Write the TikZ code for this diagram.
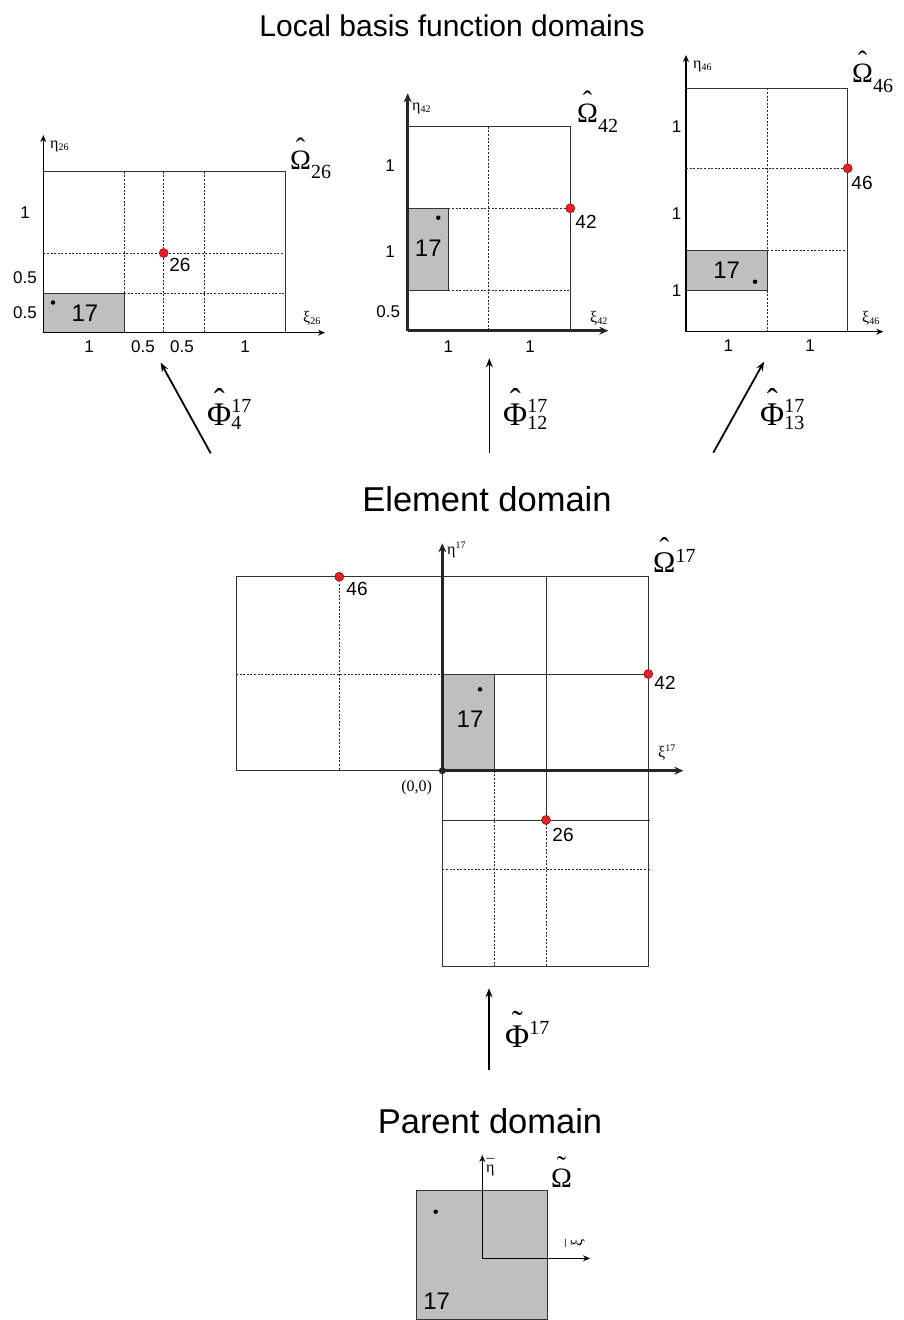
\documentclass[tikz,border=0pt]{standalone}
\usepackage{fontspec}
\setmainfont{Liberation Sans}
\newfontfamily\tms{Liberation Serif}
\usetikzlibrary{arrows.meta}
\newcommand\fs[1]{\fontsize{#1}{#1}\selectfont}
\newcommand\accented[3]{\leavevmode\vbox{\offinterlineskip\halign{\hfil##\hfil\cr #1\cr\noalign{\kern#2}#3\cr}}}
\newcommand\supsubx[4]{\makebox[0pt][l]{\raisebox{#3}{#1}}\raisebox{#4}{#2}}
\definecolor{ptred}{RGB}{228,32,36}
\definecolor{ptredd}{RGB}{140,20,20}
\begin{document}
\begin{tikzpicture}[x=1pt,y=-1pt,
  frame/.style={draw=black!80, line width=0.9pt},
  grid/.style={draw=black!85, line width=0.9pt, dash pattern=on 2pt off 1.6pt},
  thinaxis/.style={draw=black, line width=1.2pt, -{Stealth[length=7pt,width=6pt]}},
  thickaxis/.style={draw=black!85, line width=2.6pt, -{Stealth[length=9pt,width=8pt]}},
  maparrow/.style={draw=black, line width=1.8pt, -{Stealth[length=9pt,width=7pt]}},
  maparrowthin/.style={draw=black, line width=1.2pt, -{Stealth[length=9pt,width=7pt]}},
  cell/.style={fill=black!25, draw=black!80, line width=0.9pt},
  redpt/.style={circle, inner sep=0pt, minimum size=9pt, fill=ptred, draw=ptredd, line width=0.6pt},
  blkpt/.style={circle, inner sep=0pt, minimum size=4.5pt, fill=black},
  num/.style={font=\fs{17}, inner sep=0pt},
  lbl/.style={font=\fs{19}, inner sep=0pt},
  big/.style={font=\fs{24}, inner sep=0pt},
  ttl/.style={font=\fs{30}, inner sep=0pt, anchor=base},
  axl/.style={font=\tms\fs{16}, inner sep=0pt, anchor=base west},
  dom/.style={font=\tms\fs{28}, inner sep=0pt, anchor=base west},
  phi/.style={font=\tms\fs{33}, inner sep=0pt, anchor=base west}]
\useasboundingbox (0,0) rectangle (904,1320);

% titles
\node[ttl] (t1) at (452,36.7) {Local basis function domains};
\node[ttl, font=\fs{34.5}] (t2) at (487,511.7) {Element domain};
\node[ttl, font=\fs{34.5}] (t3) at (490,1133) {Parent domain};

% ---------- top-left panel (26)
\draw[grid] (124,171.7) -- (124,293.7);
\draw[grid] (163.7,171.7) -- (163.7,332.7);
\draw[grid] (204.3,171.7) -- (204.3,332.7);
\draw[grid] (43.3,253) -- (285,253);
\draw[grid] (124,293.7) -- (285,293.7);
\draw[frame] (43.3,171.7) rectangle (285,332.7);
\draw[cell] (43.3,293.7) rectangle (124,332.7);
\draw[thinaxis] (43.3,332.7) -- (43.3,135);
\draw[thinaxis] (43.3,332.7) -- (325,332.7);
\node[redpt] (p26) at (163.7,253) {};
\node[lbl] (l26) at (180,265) {26};
\node[blkpt] (d26) at (53,302.5) {};
\node[big] (c26) at (85,313) {17};
\node[num] (a1) at (25,213) {1};
\node[num] (a2) at (25,278) {0.5};
\node[num] (a3) at (25,313) {0.5};
\node[num] (a4) at (89,347) {1};
\node[num] (a5) at (143,347) {0.5};
\node[num] (a6) at (182,347) {0.5};
\node[num] (a7) at (245,347) {1};
\node[axl] (e26) at (50,148) {η\raisebox{-2pt}{\fs{10}26}};
\node[axl] (x26) at (303,322) {ξ\raisebox{-2pt}{\fs{10}26}};
\node[dom] (o26) at (290,169) {\accented{ˆ}{-.25em}{Ω}\raisebox{-9pt}{\fs{20}26}};

% ---------- top-middle panel (42)
\draw[grid] (488.7,126.7) -- (488.7,330.7);
\draw[grid] (448.3,208.3) -- (570.3,208.3);
\draw[grid] (448.3,290.7) -- (570.3,290.7);
\draw[frame] (407.7,126.7) rectangle (570.3,330.7);
\draw[cell] (407.7,208.3) rectangle (448.3,290.7);
\draw[thickaxis] (407.7,330.7) -- (407.7,93.3);
\draw[thickaxis] (407.7,330.7) -- (608.3,330.7);
\node[redpt] (p42) at (570.3,208.3) {};
\node[lbl] (l42) at (586,222) {42};
\node[blkpt] (d42) at (438.3,217.7) {};
\node[big] (c42) at (428.3,248.3) {17};
\node[num] (b1) at (390,166) {1};
\node[num] (b2) at (390,251.7) {1};
\node[num] (b3) at (388.3,311.7) {0.5};
\node[num] (b4) at (448.3,346.7) {1};
\node[num] (b5) at (530,346.7) {1};
\node[axl] (e42) at (412,110) {η\raisebox{-2pt}{\fs{10}42}};
\node[axl] (x42) at (590,322) {ξ\raisebox{-2pt}{\fs{10}42}};
\node[dom] (o42) at (577,122) {\accented{ˆ}{-.25em}{Ω}\raisebox{-10pt}{\fs{20}42}};

% ---------- top-right panel (46)
\draw[grid] (767.3,88.3) -- (767.3,250.7);
\draw[grid] (767.3,290.7) -- (767.3,331.7);
\draw[grid] (686,168.3) -- (847.7,168.3);
\draw[grid] (767.3,250.7) -- (847.7,250.7);
\draw[frame] (686,88.3) rectangle (847.7,331.7);
\draw[cell] (686,250.7) rectangle (767.3,290.7);
\draw[thinaxis] (686,331.7) -- (686,55);
\draw[thinaxis] (686,331.7) -- (883.3,331.7);
\node[redpt] (p46) at (847.7,168.3) {};
\node[lbl] (l46) at (862,183) {46};
\node[blkpt] (d46) at (755,281.7) {};
\node[big] (c46) at (726.7,270) {17};
\node[num] (r1) at (676.7,126.7) {1};
\node[num] (r2) at (676.7,213.3) {1};
\node[num] (r3) at (676.7,290.7) {1};
\node[num] (r4) at (728.3,346) {1};
\node[num] (r5) at (810,346) {1};
\node[axl] (e46) at (693,68) {η\raisebox{-2pt}{\fs{10}46}};
\node[axl] (x46) at (862,322) {ξ\raisebox{-2pt}{\fs{10}46}};
\node[dom] (o46) at (852,82) {\accented{ˆ}{-.25em}{Ω}\raisebox{-10pt}{\fs{20}46}};

% ---------- maps to local domains
\coordinate (m4s) at (210.7,453.3);  \coordinate (m4e) at (160.7,362.7);
\coordinate (m12s) at (489.3,453.3); \coordinate (m12e) at (489.3,358.3);
\coordinate (m13s) at (713.3,452.7); \coordinate (m13e) at (764,361.7);
\draw[maparrow] (m4s) -- (m4e);
\draw[maparrowthin] (m12s) -- (m12e);
\draw[maparrow] (m13s) -- (m13e);
\node[phi] (f4) at (207,425) {\accented{ˆ}{-.26em}{Φ}{\fs{20}\supsubx{17}{4}{13pt}{-4pt}}};
\node[phi] (f12) at (503,425) {\accented{ˆ}{-.26em}{Φ}{\fs{20}\supsubx{17}{12}{13pt}{-4pt}}};
\node[phi] (f13) at (760,425) {\accented{ˆ}{-.26em}{Φ}{\fs{20}\supsubx{17}{13}{13pt}{-4pt}}};

% ---------- element domain
\draw[grid] (236,674) -- (442.3,674);
\draw[grid] (339.3,576.7) -- (339.3,770.7);
\draw[grid] (494.3,770.7) -- (494.3,966.7);
\draw[grid] (546,820) -- (546,966.7);
\draw[grid] (442.3,869) -- (650,869);
\draw[frame] (236,576.7) rectangle (648.3,770.7);
\draw[frame] (442.3,770.7) rectangle (648.3,966.7);
\draw[frame] (546,576.7) -- (546,820);
\draw[frame] (442.3,674) -- (648.3,674);
\draw[frame] (442.3,820) -- (650,820);
\draw[cell] (442.3,674) rectangle (494.3,770.7);
\draw[thickaxis] (442.3,770.7) -- (442.3,543.3);
\draw[thickaxis] (442.3,770.7) -- (683.3,770.7);
\node[circle, inner sep=0pt, minimum size=7pt, fill=black!85] (org) at (442.3,770.7) {};
\node[font=\tms\fs{16}, inner sep=0pt] (orgl) at (416.7,787.3) {(0,0)};
\node[redpt] (q46) at (339.3,576.7) {};
\node[lbl] (ql46) at (357,589.3) {46};
\node[redpt] (q42) at (648.3,674) {};
\node[lbl] (ql42) at (665,683.3) {42};
\node[redpt] (q26) at (546,820) {};
\node[lbl] (ql26) at (563,835) {26};
\node[blkpt] (qd) at (480,689.3) {};
\node[big] (qc) at (470,719.3) {17};
\node[axl] (e17) at (447,554) {η\raisebox{6pt}{\fs{10}17}};
\node[axl] (x17) at (658,757) {ξ\raisebox{6pt}{\fs{10}17}};
\node[dom, font=\tms\fs{30}] (o17) at (653,572) {\accented{ˆ}{-.22em}{Ω}\raisebox{10pt}{\fs{20}17}};

% ---------- parent map
\coordinate (ps) at (489,1070); \coordinate (pe) at (489,988.3);
\draw[maparrowthin] (ps) -- (pe);
\node[phi] (ft) at (505,1047) {\accented{˜}{-.25em}{Φ}\raisebox{13pt}{\fs{20}17}};

% ---------- parent domain
\draw[cell] (416.7,1190) rectangle (547.7,1319.5);
\draw[thinaxis] (482.3,1258.3) -- (482.3,1155);
\draw[thinaxis] (482.3,1258.3) -- (590,1258.3);
\node[blkpt] (pd) at (435.7,1211.7) {};
\node[big] (pc) at (436.7,1301.7) {17};
\node[axl] (eb) at (486,1172) {\accented{¯}{-.4em}{η}};
\node[font=\tms\fs{16}, inner sep=0pt, rotate=90] (xb) at (575,1243) {\accented{¯}{-.4em}{ξ}};
\node[dom] (ot) at (551,1187) {\accented{˜}{-.25em}{Ω}};
\end{tikzpicture}
\end{document}
